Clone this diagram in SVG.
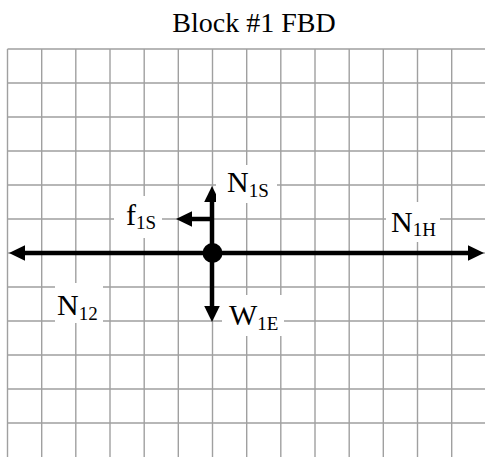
<svg xmlns="http://www.w3.org/2000/svg" width="485" height="457" viewBox="0 0 485 457">
<style>
.g{stroke:#a0a0a0;stroke-width:1.4;fill:none}
.ax{stroke:#000;stroke-width:4.5;fill:none}
.t{font-family:"Liberation Serif","Times New Roman",serif;fill:#000}
.m{font-size:30px}
.s{font-size:19px}
.bg{fill:#fff}
</style>
<defs>
<marker id="ah" markerUnits="userSpaceOnUse" markerWidth="20" markerHeight="20" refX="1" refY="0" orient="auto" overflow="visible">
<path d="M0,-7.8 L16,0 L0,7.8 z" fill="#000"/>
</marker>
</defs>
<rect width="485" height="457" fill="#fff"/>
<text class="t" x="254" y="32" font-size="28" text-anchor="middle">Block #1 FBD</text>
<g id="grid" class="g">
<path d="M7.5,49V457M41.7,49V457M75.8,49V457M110,49V457M144.2,49V457M178.3,49V457M212.5,49V457M246.7,49V457M280.8,49V457M315,49V457M349.2,49V457M383.3,49V457M417.5,49V457M451.7,49V457"/>
<path d="M7.5,49H485M7.5,83H485M7.5,117H485M7.5,151H485M7.5,185H485M7.5,219H485M7.5,253H485M7.5,287H485M7.5,321H485M7.5,355H485M7.5,389H485M7.5,423H485"/>
</g>
<g id="connectors">
<line class="ax" x1="212" y1="253" x2="24" y2="253" marker-end="url(#ah)"/>
<line class="ax" x1="212" y1="253" x2="469" y2="253" marker-end="url(#ah)"/>
<line class="ax" x1="212" y1="253" x2="212" y2="201" marker-end="url(#ah)"/>
<line class="ax" x1="212" y1="253" x2="212" y2="307" marker-end="url(#ah)"/>
<line class="ax" x1="214" y1="219" x2="191" y2="219" marker-end="url(#ah)"/>
</g>
<g id="block">
<circle cx="212.5" cy="253" r="10" fill="#000"/>
</g>
<g id="N1S">
<rect class="bg" x="216" y="165" width="61" height="38"/>
<text class="t" x="227" y="192"><tspan class="m">N</tspan><tspan class="s" dy="5">1S</tspan></text>
</g>
<g id="f1S">
<rect class="bg" x="114" y="196" width="48" height="42"/>
<text class="t" x="126" y="225"><tspan class="m">f</tspan><tspan class="s" dy="4">1S</tspan></text>
</g>
<g id="N1H">
<rect class="bg" x="386" y="202" width="54" height="40"/>
<text class="t" x="391" y="232"><tspan class="m">N</tspan><tspan class="s" dy="4">1H</tspan></text>
</g>
<g id="N12">
<rect class="bg" x="55" y="283" width="48" height="40"/>
<text class="t" x="57" y="315"><tspan class="m">N</tspan><tspan class="s" dy="5">12</tspan></text>
</g>
<g id="W1E">
<rect class="bg" x="222" y="295" width="62" height="41"/>
<text class="t" x="229" y="325"><tspan class="m">W</tspan><tspan class="s" dy="5">1E</tspan></text>
</g>
</svg>
